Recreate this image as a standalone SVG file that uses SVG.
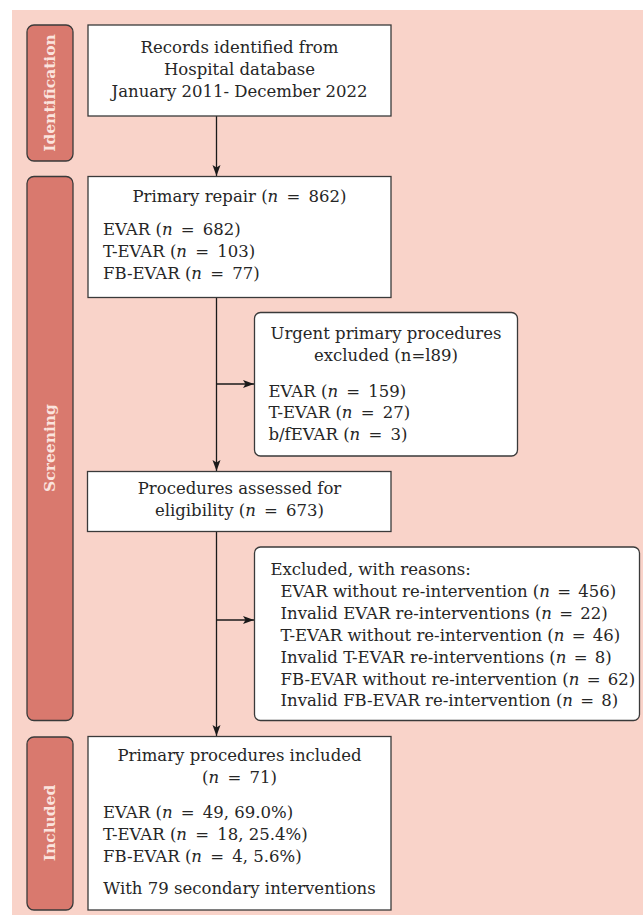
<svg xmlns="http://www.w3.org/2000/svg" width="643" height="915" viewBox="0 0 643 915">
<style>
.bg{fill:#f9d3c9}
.lab{fill:#d9796e;stroke:#3a3a3a;stroke-width:1.3}
.labt{font-family:"DejaVu Serif","Liberation Serif",serif;font-weight:bold;font-size:15.5px;fill:#fbe4de;text-anchor:middle}
.box{fill:#ffffff;stroke:#3a3a3a;stroke-width:1.3}
.t{font-family:"DejaVu Serif","Liberation Serif",serif;font-size:16.5px;fill:#262626}
.c{text-anchor:middle}
.i{font-style:italic}
.ln{stroke:#1a1a1a;stroke-width:1.3;fill:none}
</style>
<defs>
<marker id="ah" markerUnits="userSpaceOnUse" markerWidth="12" markerHeight="9" refX="11" refY="4.5" orient="auto">
<path d="M0,0.5 L11,4.5 L0,8.5 L2.5,4.5 Z" fill="#1a1a1a"/>
</marker>
</defs>
<rect class="bg" x="12" y="10" width="631" height="905"/>

<g id="label-identification">
<rect class="lab" x="27" y="25" width="46" height="136" rx="7"/>
<text class="labt" transform="translate(55,93) rotate(-90)">Identification</text>
</g>
<g id="label-screening">
<rect class="lab" x="27" y="176.5" width="46" height="544" rx="7"/>
<text class="labt" transform="translate(55,448) rotate(-90)">Screening</text>
</g>
<g id="label-included">
<rect class="lab" x="27" y="737" width="46" height="173" rx="7"/>
<text class="labt" transform="translate(55,823) rotate(-90)">Included</text>
</g>

<g id="connectors">
<line class="ln" x1="216.5" y1="116" x2="216.5" y2="176" marker-end="url(#ah)"/>
<line class="ln" x1="216.5" y1="297" x2="216.5" y2="471" marker-end="url(#ah)"/>
<line class="ln" x1="216.5" y1="384" x2="254" y2="384" marker-end="url(#ah)"/>
<line class="ln" x1="216.5" y1="532" x2="216.5" y2="736" marker-end="url(#ah)"/>
<line class="ln" x1="216.5" y1="620" x2="254" y2="620" marker-end="url(#ah)"/>
</g>

<g id="node-records">
<rect class="box" x="88" y="25" width="303" height="91"/>
<text class="t c" x="239.5" y="53">Records identified from</text>
<text class="t c" x="239.5" y="75">Hospital database</text>
<text class="t c" x="239.5" y="97">January 2011- December 2022</text>
</g>

<g id="node-primary-repair">
<rect class="box" x="88" y="176.5" width="303" height="121"/>
<text class="t c" x="239.5" y="201.5">Primary repair (<tspan class="i">n</tspan><tspan dx="3"> =</tspan><tspan dx="3"> 862)</tspan></text>
<text class="t" x="103" y="235">EVAR (<tspan class="i">n</tspan><tspan dx="3"> =</tspan><tspan dx="3"> 682)</tspan></text>
<text class="t" x="103" y="257">T-EVAR (<tspan class="i">n</tspan><tspan dx="3"> =</tspan><tspan dx="3"> 103)</tspan></text>
<text class="t" x="103" y="279">FB-EVAR (<tspan class="i">n</tspan><tspan dx="3"> =</tspan><tspan dx="3"> 77)</tspan></text>
</g>

<g id="node-urgent-excluded">
<rect class="box" x="254.5" y="312.5" width="263" height="143.5" rx="6"/>
<text class="t c" x="386" y="339">Urgent primary procedures</text>
<text class="t c" x="386" y="360.5">excluded (n=l89)</text>
<text class="t" x="268.5" y="396.5">EVAR (<tspan class="i">n</tspan><tspan dx="3"> =</tspan><tspan dx="3"> 159)</tspan></text>
<text class="t" x="268.5" y="418">T-EVAR (<tspan class="i">n</tspan><tspan dx="3"> =</tspan><tspan dx="3"> 27)</tspan></text>
<text class="t" x="268.5" y="440">b/fEVAR (<tspan class="i">n</tspan><tspan dx="3"> =</tspan><tspan dx="3"> 3)</tspan></text>
</g>

<g id="node-assessed">
<rect class="box" x="87.5" y="471.5" width="303.5" height="60"/>
<text class="t c" x="239.5" y="493.5">Procedures assessed for</text>
<text class="t c" x="239.5" y="516">eligibility (<tspan class="i">n</tspan><tspan dx="3"> =</tspan><tspan dx="3"> 673)</tspan></text>
</g>

<g id="node-excluded-reasons">
<rect class="box" x="254.5" y="547" width="385" height="173.5" rx="6"/>
<text class="t" x="270.5" y="574.5">Excluded, with reasons:</text>
<text class="t" x="280.5" y="596.5">EVAR without re-intervention (<tspan class="i">n</tspan><tspan dx="2"> =</tspan><tspan dx="2"> 456)</tspan></text>
<text class="t" x="280.5" y="618.5">Invalid EVAR re-interventions (<tspan class="i">n</tspan><tspan dx="2"> =</tspan><tspan dx="2"> 22)</tspan></text>
<text class="t" x="280.5" y="640.5">T-EVAR without re-intervention (<tspan class="i">n</tspan><tspan dx="2"> =</tspan><tspan dx="2"> 46)</tspan></text>
<text class="t" x="280.5" y="662.5">Invalid T-EVAR re-interventions (<tspan class="i">n</tspan><tspan dx="2"> =</tspan><tspan dx="2"> 8)</tspan></text>
<text class="t" x="280.5" y="684.5">FB-EVAR without re-intervention (<tspan class="i">n</tspan><tspan dx="2"> =</tspan><tspan dx="2"> 62)</tspan></text>
<text class="t" x="280.5" y="706">Invalid FB-EVAR re-intervention (<tspan class="i">n</tspan><tspan dx="2"> =</tspan><tspan dx="2"> 8)</tspan></text>
</g>

<g id="node-included">
<rect class="box" x="88" y="736.5" width="303" height="173.5"/>
<text class="t c" x="239.5" y="761">Primary procedures included</text>
<text class="t c" x="239.5" y="783">(<tspan class="i">n</tspan><tspan dx="3"> =</tspan><tspan dx="3"> 71)</tspan></text>
<text class="t" x="103" y="817.5">EVAR (<tspan class="i">n</tspan><tspan dx="3"> =</tspan><tspan dx="3"> 49, 69.0%)</tspan></text>
<text class="t" x="103" y="839.5">T-EVAR (<tspan class="i">n</tspan><tspan dx="3"> =</tspan><tspan dx="3"> 18, 25.4%)</tspan></text>
<text class="t" x="103" y="861.5">FB-EVAR (<tspan class="i">n</tspan><tspan dx="3"> =</tspan><tspan dx="3"> 4, 5.6%)</tspan></text>
<text class="t c" x="239.5" y="894">With 79 secondary interventions</text>
</g>
</svg>
